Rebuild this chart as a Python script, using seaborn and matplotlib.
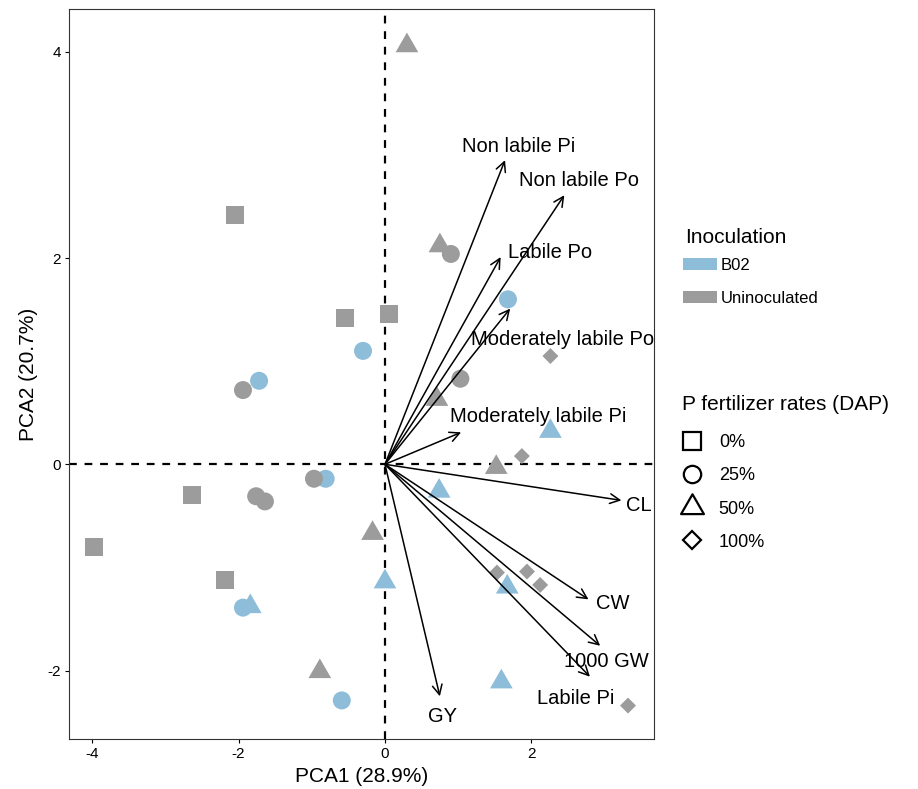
import numpy as np
import pandas as pd
import seaborn as sns
import matplotlib.pyplot as plt
from matplotlib.path import Path
from matplotlib.patches import Patch
from matplotlib.lines import Line2D

# sample scores (row order = drawing order)
pc1 = [-2.05, -0.55, 0.05, -2.64, -3.98, -2.19,
       2.26, 1.87, 1.53, 1.94, 2.12, 3.32,
       0.30, 0.75, 0.71, 1.52, -0.17, -0.89,
       2.26, 0.74, 0.00, 1.67, 1.59, -1.84,
       -1.94, 0.90, 1.03, -1.76, -1.64,
       -1.72, -0.30, 1.68, -0.81, -0.97, -1.94, -0.59]
pc2 = [2.42, 1.42, 1.46, -0.30, -0.80, -1.12,
       1.05, 0.08, -1.05, -1.04, -1.17, -2.34,
       4.06, 2.12, 0.63, -0.03, -0.67, -2.01,
       0.32, -0.26, -1.14, -1.19, -2.11, -1.38,
       0.72, 2.04, 0.83, -0.31, -0.36,
       0.81, 1.10, 1.60, -0.14, -0.14, -1.39, -2.29]
inoculation = (["Uninoculated"] * 6 + ["Uninoculated"] * 6 + ["Uninoculated"] * 6
               + ["B02"] * 6 + ["Uninoculated"] * 5
               + ["B02", "B02", "B02", "B02", "Uninoculated", "B02", "B02"])
p_rate = ["0%"] * 6 + ["100%"] * 6 + ["50%"] * 12 + ["25%"] * 12

# variable loadings
var_names = ["Non labile Pi", "Non labile Po", "Labile Po", "Moderately labile Po",
             "Moderately labile Pi", "CL", "CW", "1000 GW", "Labile Pi", "GY"]
arrow_x = [1.64, 2.45, 1.58, 1.71, 1.04, 3.23, 2.78, 2.94, 2.80, 0.75]
arrow_y = [2.95, 2.61, 2.01, 1.51, 0.31, -0.35, -1.31, -1.76, -2.06, -2.25]
label_x = [1.83, 2.65, 2.26, 2.42, 2.09, 3.47, 3.11, 3.03, 2.61, 0.79]
label_y = [3.08, 2.75, 2.05, 1.21, 0.46, -0.40, -1.35, -1.91, -2.27, -2.45]

inoc_levels = ["B02", "Uninoculated"]
rate_levels = ["0%", "25%", "50%", "100%"]
palette = {"B02": "#8DBDD8", "Uninoculated": "#9C9C9C"}

tri = Path([(0, 1), (-0.866, -0.5), (0.866, -0.5), (0, 1)],
           [Path.MOVETO, Path.LINETO, Path.LINETO, Path.CLOSEPOLY])
markers = {"0%": "s", "25%": "o", "50%": tri, "100%": "D"}
sizes = {"0%": 168, "25%": 168, "50%": 356, "100%": 66}

df = pd.DataFrame({"PC1": pc1, "PC2": pc2, "Inoculation": inoculation, "Rate": p_rate})

sns.set_style("white")
plt.rcParams['font.family'] = ['Liberation Sans', 'DejaVu Sans']
plt.rcParams['text.color'] = 'black'
plt.rcParams['axes.labelcolor'] = 'black'
plt.rcParams['axes.unicode_minus'] = False

fig = plt.figure(figsize=(9.18, 7.89), dpi=100)
ax = fig.add_axes([0.0757, 0.0634, 0.6367, 0.9252])

ax.axhline(0, color="black", lw=1.6, ls=(0, (3.5, 3.5)), zorder=1)
ax.axvline(0, color="black", lw=1.6, ls=(0, (3.5, 3.5)), zorder=1)

sns.scatterplot(data=df, x="PC1", y="PC2", hue="Inoculation", style="Rate", size="Rate",
                palette=palette, markers=markers, sizes=sizes, hue_order=inoc_levels,
                style_order=rate_levels, size_order=rate_levels,
                linewidth=0, alpha=1, legend=False, ax=ax, zorder=2)

for name, x, y, lx, ly in zip(var_names, arrow_x, arrow_y, label_x, label_y):
    ax.annotate("", xy=(x, y), xytext=(0, 0),
                arrowprops=dict(arrowstyle="->,head_length=0.7,head_width=0.35",
                                color="black", lw=1.1, shrinkA=0, shrinkB=0,
                                mutation_scale=10), zorder=3)
    ax.text(lx, ly, name, fontsize=14.5, ha="center", va="center", zorder=4)

ax.set_xlim(-4.31, 3.675)
ax.set_ylim(-2.664, 4.416)
ax.set_xticks([-4, -2, 0, 2])
ax.set_yticks([-2, 0, 2, 4])
ax.set_xlabel("PCA1 (28.9%)", fontsize=15, labelpad=4)
ax.set_ylabel("PCA2 (20.7%)", fontsize=15, labelpad=7)
ax.tick_params(axis="both", direction="out", length=3, width=0.8, labelsize=11,
               colors="black", pad=3, bottom=True, left=True)
for sp in ax.spines.values():
    sp.set_color("#333333")
    sp.set_linewidth(0.8)

# legends (titles placed as text, entries as legends)
fig.text(685 / 918, 1 - 243 / 789, "Inoculation", fontsize=15, va="baseline", ha="left")
inoc_handles = [Patch(facecolor=palette[k], edgecolor="none") for k in inoc_levels]
leg1 = fig.legend(inoc_handles, inoc_levels, loc="upper left",
                  bbox_to_anchor=(682.7 / 918, 1 - 258 / 789), frameon=False, fontsize=12,
                  handlelength=2.05, handleheight=0.7,
                  handletextpad=0.25, labelspacing=1.08, borderpad=0,
                  borderaxespad=0)

fig.text(682 / 918, 1 - 410 / 789, "P fertilizer rates (DAP)", fontsize=15,
         va="baseline", ha="left")
shape_markers = {"0%": "s", "25%": "o", "50%": tri, "100%": "D"}
shape_ms = {"0%": 12.5, "25%": 12.5, "50%": 19, "100%": 9.2}
shape_handles = [Line2D([], [], ls="none", marker=shape_markers[r], ms=shape_ms[r],
                        markerfacecolor="none", markeredgecolor="black",
                        markeredgewidth=1.6) for r in rate_levels]
leg2 = fig.legend(shape_handles, rate_levels,
                  loc="upper left", bbox_to_anchor=(682.7 / 918, 1 - 434 / 789), frameon=False,
                  fontsize=13, handlelength=1.0,
                  handletextpad=1.0, labelspacing=0.9, borderpad=0,
                  borderaxespad=0)

plt.savefig("out.png", dpi=100)
